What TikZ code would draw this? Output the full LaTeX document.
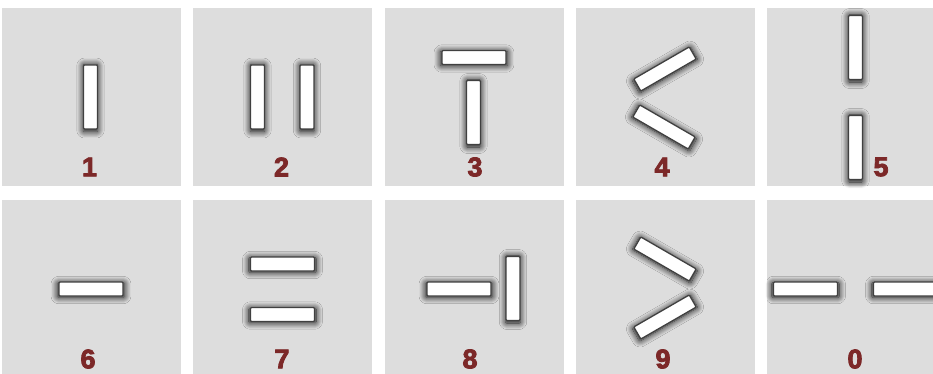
\documentclass[tikz,border=0pt]{standalone}
\usepackage{fontspec}
\setmainfont{Liberation Sans}
\newfontfamily\numfont[FakeBold=3]{Liberation Sans Bold}
\usepackage{tikz}
\usetikzlibrary{positioning,shadows.blur}
\definecolor{panelgrey}{RGB}{221,221,221}
\definecolor{numred}{RGB}{124,40,40}

\begin{document}
\begin{tikzpicture}[
  x=1pt, y=-1pt,
  panel/.style={fill=panelgrey, minimum width=179pt, minimum height=178pt, inner sep=0pt},
  stick/.style={draw=black!75, line width=1.3pt, fill=white, rounded corners=1pt, minimum width=64pt, minimum height=14pt, inner sep=0pt,
    blur shadow={shadow xshift=0pt, shadow yshift=-1pt, shadow scale=1.05, shadow blur radius=6pt, shadow blur steps=12, shadow opacity=95}},
  vstick/.style={stick, rotate=90},
  num/.style={font=\numfont\fontsize{27}{27}\selectfont, text=numred, inner sep=0pt}
]
\useasboundingbox (0,0) rectangle (933,374);
\clip (0,0) rectangle (933,374);
% panels
\node[panel] (p1) at (91.5,97) {};
\node[panel] (p2) at (282.5,97) {};
\node[panel] (p3) at (474,97) {};
\node[panel] (p4) at (665,97) {};
\node[panel] (p5) at (856,97) {};
\node[panel] (p6) at (91.5,289) {};
\node[panel] (p7) at (282.5,289) {};
\node[panel] (p8) at (474,289) {};
\node[panel] (p9) at (665,289) {};
\node[panel] (p0) at (856,289) {};
% sticks, top row
\node[vstick] (s1) at (90.5,97) {};
\node[vstick] (s2a) at (257.5,97) {};
\node[vstick] (s2b) at (307,97) {};
\node[stick] (s3a) at (474,57.5) {};
\node[vstick] (s3b) at (473.5,112.5) {};
\node[stick, rotate=30] (s4a) at (665,69) {};
\node[stick, rotate=-30] (s4b) at (664,127) {};
\node[vstick] (s5a) at (855.5,47.5) {};
\node[vstick] (s5b) at (855.5,147.5) {};
% sticks, bottom row
\node[stick] (s6) at (91,289) {};
\node[stick] (s7a) at (282.5,264) {};
\node[stick] (s7b) at (282.5,314.5) {};
\node[stick] (s8a) at (459,289) {};
\node[vstick] (s8b) at (513,288.5) {};
\node[stick, rotate=-30] (s9a) at (665,259) {};
\node[stick, rotate=30] (s9b) at (665,317) {};
\node[stick] (s0a) at (805.5,289) {};
\node[stick] (s0b) at (905.5,289) {};
% numbers
\node[num] (n1) at (89.5,167) {1};
\node[num] (n2) at (281.5,167) {2};
\node[num] (n3) at (475,167) {3};
\node[num] (n4) at (662,167) {4};
\node[num] (n5) at (881,167) {5};
\node[num] (n6) at (88,359) {6};
\node[num] (n7) at (282,359) {7};
\node[num] (n8) at (470,359) {8};
\node[num] (n9) at (663,359) {9};
\node[num] (n0) at (855,359) {0};
\end{tikzpicture}
\end{document}
